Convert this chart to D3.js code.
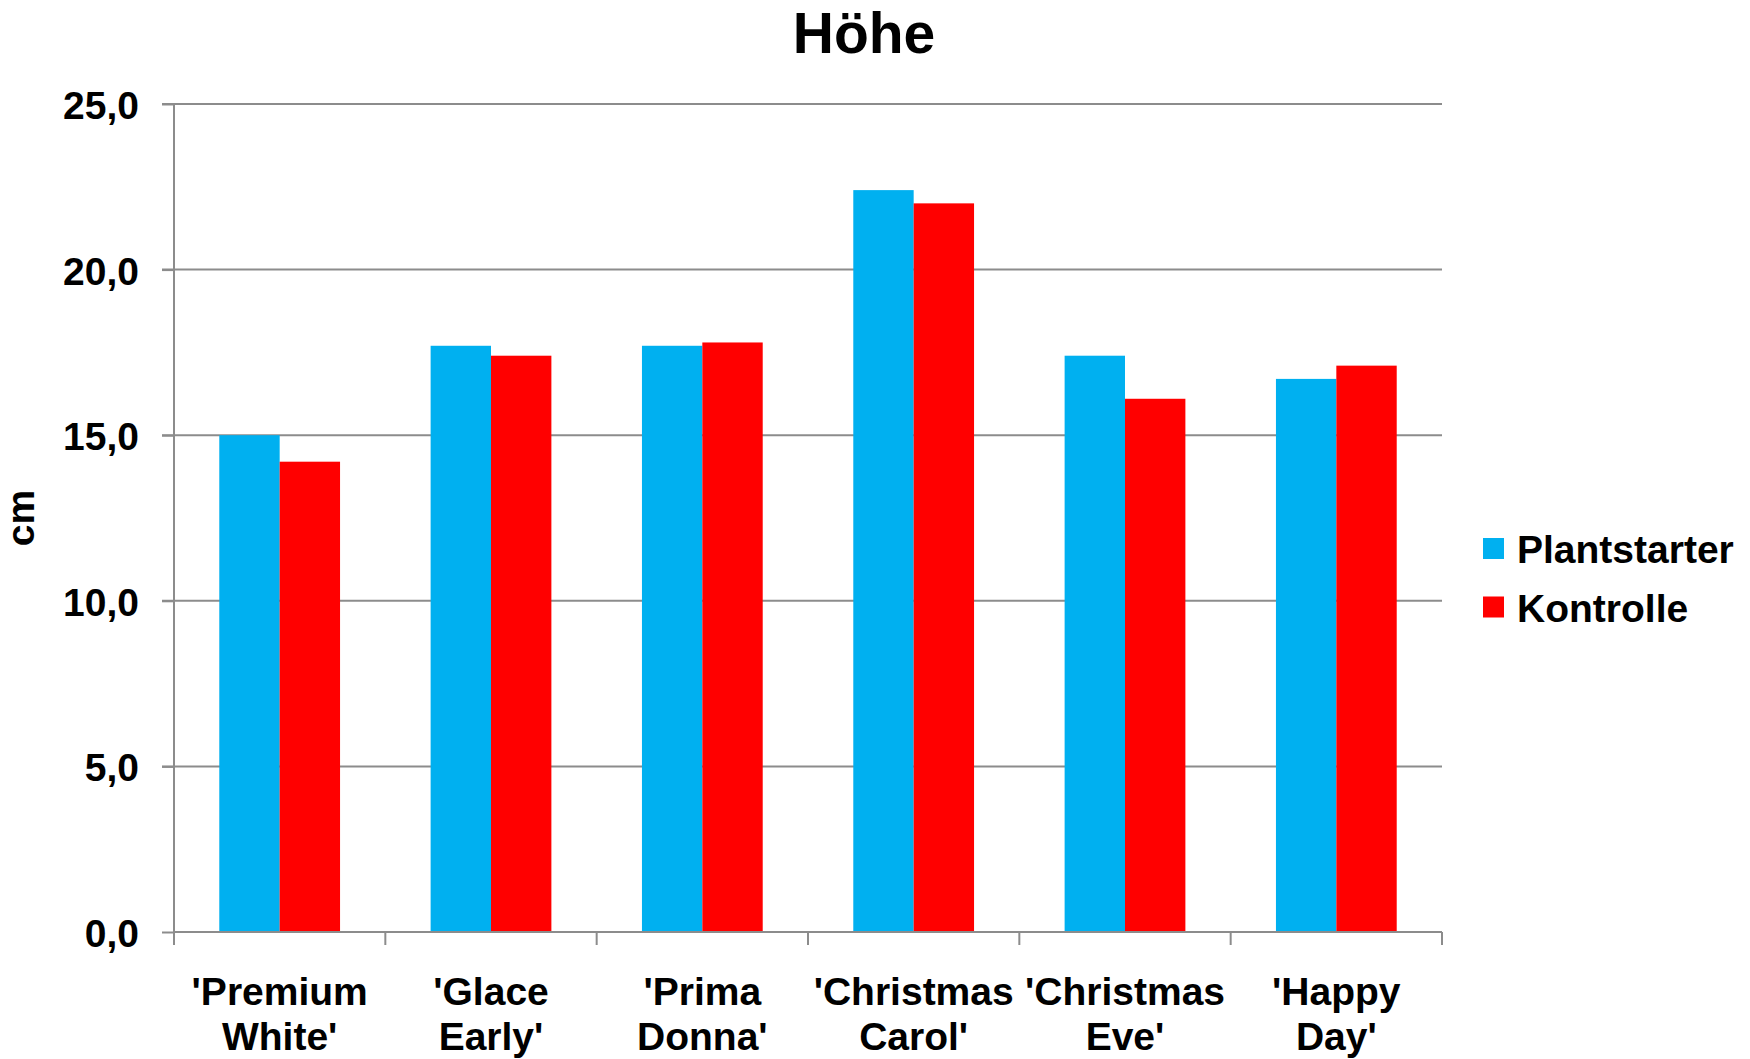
<!DOCTYPE html>
<html>
<head>
<meta charset="utf-8">
<script src="https://cdn.jsdelivr.net/npm/d3@7"></script>
<style>
  html, body { margin: 0; padding: 0; background: #fff; }
  svg { display: block; font-family: "Liberation Sans", Arial, sans-serif; font-weight: bold; }
</style>
</head>
<body>
<svg id="chart" width="1750" height="1059"></svg>
<script>
const title = "Höhe";
const yAxisTitle = "cm";
const categories = ["'Premium White'", "'Glace Early'", "'Prima Donna'", "'Christmas Carol'", "'Christmas Eve'", "'Happy Day'"];
const seriesNames = ["Plantstarter", "Kontrolle"];
const plantstarter = [15.0, 17.7, 17.7, 22.4, 17.4, 16.7];
const kontrolle = [14.2, 17.4, 17.8, 22.0, 16.1, 17.1];
const seriesColors = ["#00B0F0", "#FF0000"];
const yTicks = [0, 5, 10, 15, 20, 25];
const yTickLabels = ["0,0", "5,0", "10,0", "15,0", "20,0", "25,0"];

(function () {
const seriesValues = [plantstarter, kontrolle];

const svg = d3.select("#chart");
const plotLeft = 174, plotRight = 1442, plotTop = 104, plotBottom = 932;

const y = d3.scaleLinear().domain([0, 25]).range([plotBottom, plotTop]);
const x0 = d3.scaleBand().domain(categories).range([plotLeft, plotRight]).paddingInner(0).paddingOuter(0);
const x1 = d3.scaleBand().domain(seriesNames).range([0, x0.bandwidth()]).paddingInner(0).paddingOuter(0.75);

const gridColor = "#8C8C8C";

// gridlines
svg.append("g").selectAll("line").data(yTicks.filter(t => t > 0)).join("line")
  .attr("x1", plotLeft - 12).attr("x2", plotRight)
  .attr("y1", d => y(d)).attr("y2", d => y(d))
  .attr("stroke", gridColor).attr("stroke-width", 2);

// bars
const groups = svg.append("g").selectAll("g").data(categories).join("g")
  .attr("transform", d => `translate(${x0(d)},0)`);
groups.selectAll("rect")
  .data((d, i) => seriesNames.map((s, j) => ({ s, v: seriesValues[j][i], j })))
  .join("rect")
  .attr("x", d => x1(d.s))
  .attr("width", x1.bandwidth())
  .attr("y", d => y(d.v))
  .attr("height", d => y(0) - y(d.v))
  .attr("fill", d => seriesColors[d.j]);

// y axis
const yAxis = d3.axisLeft(y).tickValues(yTicks).tickSize(12).tickFormat((d, i) => yTickLabels[i]);
const gy = svg.append("g").attr("transform", `translate(${plotLeft},0)`).call(yAxis);
gy.select(".domain").attr("stroke", gridColor).attr("stroke-width", 2).attr("d", `M0,${plotTop}V${plotBottom}`);
gy.selectAll(".tick line").attr("stroke", gridColor).attr("stroke-width", 2);
gy.selectAll(".tick text")
  .attr("x", -35).attr("dy", "0.37em")
  .attr("font-size", 39).attr("font-weight", "bold")
  .attr("font-family", "'Liberation Sans', Arial, sans-serif")
  .attr("fill", "#000");

// x axis
const xBoundaries = categories.map(c => x0(c)).concat([plotRight]);
const gx = svg.append("g");
gx.append("line").attr("x1", plotLeft).attr("x2", plotRight).attr("y1", y(0)).attr("y2", y(0))
  .attr("stroke", gridColor).attr("stroke-width", 2);
gx.selectAll("line.tk").data(xBoundaries).join("line").attr("class", "tk")
  .attr("x1", d => d).attr("x2", d => d)
  .attr("y1", y(0)).attr("y2", y(0) + 13)
  .attr("stroke", gridColor).attr("stroke-width", 2);

const labels = svg.append("g").selectAll("text").data(categories).join("text")
  .attr("text-anchor", "middle")
  .attr("font-size", 39)
  .attr("fill", "#000")
  .attr("transform", d => `translate(${x0(d) + x0.bandwidth() / 2},0)`);
labels.each(function(d) {
  const idx = d.indexOf(" ");
  const lines = [d.slice(0, idx), d.slice(idx + 1)];
  d3.select(this).selectAll("tspan").data(lines).join("tspan")
    .attr("x", 0).attr("y", (l, i) => 1005 + i * 45).text(l => l);
});

// title
svg.append("text").attr("x", 864).attr("y", 53).attr("text-anchor", "middle")
  .attr("font-size", 57).attr("fill", "#000").text(title);

// y axis title
svg.append("text").attr("transform", `translate(33.5,${(plotTop + plotBottom) / 2}) rotate(-90)`)
  .attr("text-anchor", "middle").attr("font-size", 39).attr("fill", "#000").text(yAxisTitle);

// legend
const legend = svg.append("g").selectAll("g").data(seriesNames).join("g")
  .attr("transform", (d, i) => `translate(1483,${563 + i * 58.5})`);
legend.append("rect").attr("x", 0).attr("y", -25).attr("width", 21).attr("height", 21)
  .attr("fill", (d, i) => seriesColors[i]);
legend.append("text").attr("x", 34).attr("y", 0).attr("font-size", 39).attr("fill", "#000").text(d => d);
})();
</script>
</body>
</html>
